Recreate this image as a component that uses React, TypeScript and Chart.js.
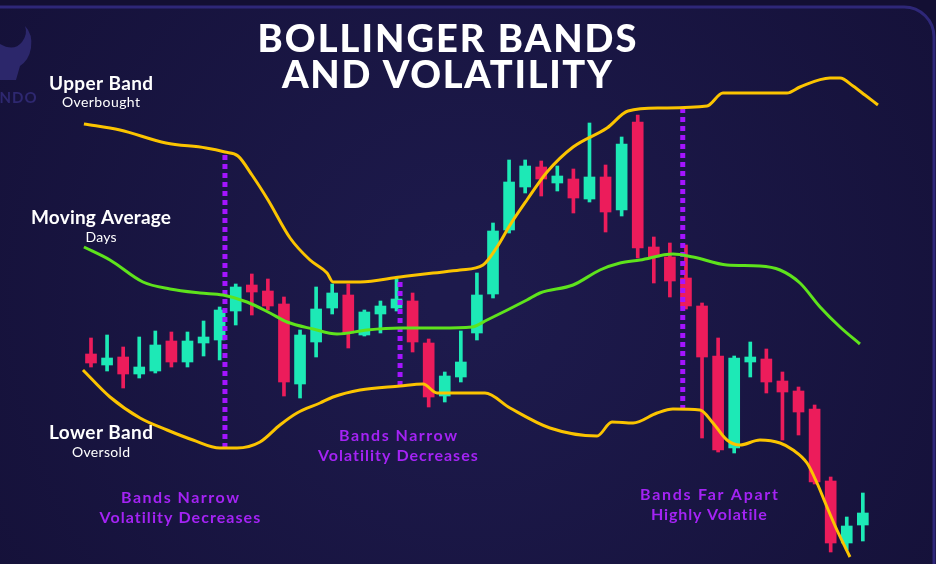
import { useEffect, useRef } from "react";
import { Chart, registerables } from "chart.js";

Chart.register(...registerables);

// candle index runs 0..48; prices in chart units (0 = bottom of picture)
const opens = [210, 199, 207, 190, 193, 223, 202, 221, 224, 253, 279, 273, 260, 180, 222, 256, 269, 229, 250, 256, 263, 221, 168, 187, 231, 270, 334, 377, 397, 381, 385, 365, 387, 354, 442, 317, 307, 286, 258, 208, 116, 202, 205, 183, 173, 155, 83, 21, 39];
const highs = [226, 229, 217, 227, 233, 232, 232, 243, 257, 280, 290, 285, 267, 234, 277, 280, 280, 254, 263, 286, 271, 225, 192, 233, 291, 341, 404, 404, 403, 398, 395, 441, 399, 427, 449, 327, 321, 319, 261, 226, 208, 222, 215, 192, 177, 159, 87, 47, 71];
const lows = [197, 193, 176, 186, 191, 197, 197, 208, 204, 239, 249, 254, 168, 166, 207, 250, 216, 228, 231, 253, 212, 157, 162, 182, 224, 266, 331, 371, 368, 373, 351, 362, 332, 348, 306, 281, 267, 255, 126, 112, 111, 187, 171, 124, 129, 80, 12, 14, 23];
const closes = [201, 206, 190, 197, 219, 202, 223, 227, 254, 277, 272, 258, 182, 229, 255, 271, 231, 252, 258, 265, 222, 167, 188, 202, 269, 333, 382, 398, 385, 388, 366, 387, 352, 420, 316, 307, 283, 258, 207, 114, 206, 207, 182, 172, 152, 82, 21, 38, 51];

const upperBand = [
  { x: -0.44, y: 440 }, { x: 1.8, y: 434 }, { x: 4.66, y: 421 }, { x: 7.15, y: 416 },
  { x: 8.33, y: 412 }, { x: 9.14, y: 408 }, { x: 10.01, y: 389 }, { x: 11.01, y: 364 },
  { x: 12.38, y: 326 }, { x: 13.62, y: 304 }, { x: 14.68, y: 291 }, { x: 15.05, y: 282 },
  { x: 16.73, y: 282 }, { x: 19.22, y: 287 }, { x: 21.27, y: 291 }, { x: 22.95, y: 294 },
  { x: 24.38, y: 299 }, { x: 25.25, y: 317 }, { x: 26.06, y: 339 }, { x: 27.11, y: 364 },
  { x: 28.36, y: 392 }, { x: 29.98, y: 417 }, { x: 32.09, y: 436 }, { x: 33.4, y: 453 },
  { x: 35.39, y: 456 }, { x: 38.31, y: 458 }, { x: 39.3, y: 471 }, { x: 43.28, y: 471 },
  { x: 44.09, y: 477 }, { x: 45.96, y: 486 }, { x: 46.58, y: 486 }, { x: 47.39, y: 478 },
  { x: 48.13, y: 469 }, { x: 48.94, y: 459 },
];

const movingAverage = [
  { x: -0.44, y: 317 }, { x: 1.18, y: 304 }, { x: 3.23, y: 282 }, { x: 4.91, y: 275 },
  { x: 6.78, y: 271 }, { x: 8.21, y: 269 }, { x: 9.7, y: 262 }, { x: 11.13, y: 251 },
  { x: 12.19, y: 242 }, { x: 13.81, y: 235 }, { x: 15.3, y: 230 }, { x: 17.16, y: 234 },
  { x: 19.22, y: 236 }, { x: 21.7, y: 236 }, { x: 23.69, y: 237 }, { x: 24.63, y: 244 },
  { x: 27.11, y: 264 }, { x: 27.92, y: 271 }, { x: 29.98, y: 279 }, { x: 31.65, y: 294 },
  { x: 32.9, y: 301 }, { x: 34.14, y: 304 }, { x: 36.19, y: 310 }, { x: 37.44, y: 307 },
  { x: 39.55, y: 299 }, { x: 41.6, y: 298 }, { x: 42.85, y: 294 }, { x: 44.09, y: 281 },
  { x: 45.34, y: 257 }, { x: 46.58, y: 237 }, { x: 47.82, y: 220 },
];

const lowerBand = [
  { x: -0.5, y: 194 }, { x: 1.18, y: 167 }, { x: 3.05, y: 146 }, { x: 4.73, y: 134 },
  { x: 6.34, y: 124 }, { x: 8.02, y: 116 }, { x: 9.08, y: 116 }, { x: 10.51, y: 122 },
  { x: 11.75, y: 139 }, { x: 12.81, y: 151 }, { x: 14.24, y: 161 }, { x: 15.05, y: 167 },
  { x: 16.73, y: 174 }, { x: 19.22, y: 178 }, { x: 20.65, y: 180 }, { x: 21.52, y: 171 },
  { x: 24.5, y: 171 }, { x: 26.06, y: 156 }, { x: 28.54, y: 136 }, { x: 31.47, y: 128 },
  { x: 32.4, y: 142 }, { x: 33.71, y: 141 }, { x: 35.2, y: 151 }, { x: 36.19, y: 155 },
  { x: 37.87, y: 154 }, { x: 38.68, y: 141 }, { x: 39.55, y: 124 }, { x: 40.36, y: 119 },
  { x: 41.6, y: 124 }, { x: 42.85, y: 121 }, { x: 43.66, y: 114 }, { x: 44.53, y: 101 },
  { x: 45.15, y: 81 }, { x: 45.77, y: 57 }, { x: 46.39, y: 34 }, { x: 47.2, y: 7 },
];

// dotted markers: candle position, bottom, top
const markerX = [8.33, 19.22, 36.8];
const markerLow = [116, 178, 154];
const markerHigh = [411, 288, 457];

const titleLines = ["BOLLINGER BANDS", "AND VOLATILITY"];
const sideLabels = ["Upper Band", "Moving Average", "Lower Band"];
const sideNotes = ["Overbought", "Days", "Oversold"];
const notes = [
  ["Bands Narrow", "Volatility Decreases"],
  ["Bands Narrow", "Volatility Decreases"],
  ["Bands Far Apart", "Highly Volatile"],
];

const UP = "#1de9b6";
const DOWN = "#ec1c5b";
const YELLOW = "#fbc400";
const LIME = "#5ee31c";
const PURPLE = "#a414ff";
const NOTE = "#a423f4";
const FONT = "Lato, 'Open Sans', sans-serif";

function fitText(
  ctx: CanvasRenderingContext2D,
  text: string,
  cx: number,
  baseline: number,
  size: number,
  weight: string,
  color: string,
  width: number
) {
  ctx.font = `${weight} ${size}px ${FONT}`;
  (ctx as any).letterSpacing = "0px";
  const w = ctx.measureText(text).width;
  const ls = Math.max(-1, Math.min(5, (width - w) / Math.max(1, text.length - 1)));
  (ctx as any).letterSpacing = `${ls}px`;
  ctx.fillStyle = color;
  ctx.textAlign = "left";
  ctx.textBaseline = "alphabetic";
  ctx.fillText(text, cx - width / 2, baseline);
}

const backdrop = {
  id: "backdrop",
  beforeDraw(chart: Chart) {
    const { ctx, width, height } = chart;
    ctx.save();
    ctx.fillStyle = "#130f33";
    ctx.fillRect(0, 0, width, height);
    const g = ctx.createRadialGradient(470, 300, 40, 470, 300, 620);
    g.addColorStop(0, "#1d1a4c");
    g.addColorStop(1, "#141037");
    ctx.beginPath();
    ctx.moveTo(-10, 7);
    ctx.lineTo(904, 7);
    ctx.arcTo(934, 7, 934, 40, 30);
    ctx.lineTo(934, height + 10);
    ctx.lineTo(-10, height + 10);
    ctx.closePath();
    ctx.fillStyle = g;
    ctx.fill();
    ctx.beginPath();
    ctx.moveTo(-10, 7);
    ctx.lineTo(904, 7);
    ctx.arcTo(934, 7, 934, 40, 30);
    ctx.lineTo(934, height + 10);
    ctx.strokeStyle = "#2e2778";
    ctx.lineWidth = 3;
    ctx.stroke();

    // faint logo at the left edge
    ctx.fillStyle = "#2c276b";
    ctx.beginPath();
    ctx.moveTo(0, 44);
    ctx.quadraticCurveTo(14, 52, 22, 42);
    ctx.quadraticCurveTo(28, 34, 25, 26);
    ctx.quadraticCurveTo(33, 34, 31, 48);
    ctx.quadraticCurveTo(29, 60, 20, 66);
    ctx.lineTo(16, 80);
    ctx.lineTo(0, 80);
    ctx.closePath();
    ctx.fill();
    fitText(ctx, "NDO", 18, 103, 15, "bold", "#2e2870", 37);
    ctx.restore();
  },
};

const captions = {
  id: "captions",
  afterDraw(chart: Chart) {
    const ctx = chart.ctx;
    ctx.save();
    fitText(ctx, titleLines[0], 447, 52, 38, "900", "#ffffff", 379);
    fitText(ctx, titleLines[1], 447, 88, 38, "900", "#ffffff", 330);

    fitText(ctx, sideLabels[0], 101, 90, 19, "bold", "#ffffff", 104);
    fitText(ctx, sideNotes[0], 101, 107, 14, "normal", "#ffffff", 78);
    fitText(ctx, sideLabels[1], 101, 224, 19, "bold", "#ffffff", 140);
    fitText(ctx, sideNotes[1], 101, 242, 14, "normal", "#ffffff", 31);
    fitText(ctx, sideLabels[2], 101, 439, 19, "bold", "#ffffff", 104);
    fitText(ctx, sideNotes[2], 101, 457, 14, "normal", "#ffffff", 58);

    fitText(ctx, notes[0][0], 398, 441, 16, "bold", NOTE, 118);
    fitText(ctx, notes[0][1], 398, 461, 16, "bold", NOTE, 160);
    fitText(ctx, notes[1][0], 180, 503, 16, "bold", NOTE, 118);
    fitText(ctx, notes[1][1], 180, 523, 16, "bold", NOTE, 161);
    fitText(ctx, notes[2][0], 709, 500, 16, "bold", NOTE, 138);
    fitText(ctx, notes[2][1], 709, 520, 16, "bold", NOTE, 116);
    ctx.restore();
  },
};

export default function App() {
  const canvasRef = useRef<HTMLCanvasElement | null>(null);
  const chartRef = useRef<Chart | null>(null);

  useEffect(() => {
    if (!canvasRef.current) return;
    if (chartRef.current) {
      chartRef.current.destroy();
      chartRef.current = null;
    }

    const idx = opens.map((_, i) => i);
    const colors = idx.map((i) => (closes[i] >= opens[i] ? UP : DOWN));

    const lineStyle = {
      type: "line" as const,
      pointRadius: 0,
      borderWidth: 3,
      fill: false,
      cubicInterpolationMode: "monotone" as const,
      order: 0,
    };

    const markers = markerX.map((x, i) => ({
      type: "line" as const,
      data: [
        { x, y: markerLow[i] },
        { x, y: markerHigh[i] },
      ],
      borderColor: PURPLE,
      borderWidth: 5,
      borderDash: [5, 4],
      borderCapStyle: "butt" as const,
      pointRadius: 0,
      order: 1,
    }));

    chartRef.current = new Chart(canvasRef.current, {
      type: "bar",
      data: {
        datasets: [
          {
            type: "bar",
            data: idx.map((i) => ({ x: i, y: [lows[i], highs[i]] })) as any,
            backgroundColor: colors,
            barThickness: 3,
            grouped: false,
            order: 3,
          },
          {
            type: "bar",
            data: idx.map((i) => ({ x: i, y: [opens[i], closes[i]] })) as any,
            backgroundColor: colors,
            barThickness: 11,
            grouped: false,
            order: 2,
          },
          { ...lineStyle, data: upperBand, borderColor: YELLOW },
          { ...lineStyle, data: lowerBand, borderColor: YELLOW },
          { ...lineStyle, data: movingAverage, borderColor: LIME },
          ...markers,
        ] as any,
      },
      options: {
        animation: false,
        responsive: true,
        maintainAspectRatio: false,
        events: [],
        layout: { padding: 0 },
        plugins: {
          legend: { display: false },
          tooltip: { enabled: false },
        },
        scales: {
          x: {
            type: "linear",
            display: false,
            offset: false,
            min: -91 / 16.08,
            max: (936 - 91) / 16.08,
          },
          y: {
            type: "linear",
            display: false,
            min: 0,
            max: 564,
          },
        },
      },
      plugins: [backdrop, captions],
    });

    return () => {
      if (chartRef.current) {
        chartRef.current.destroy();
        chartRef.current = null;
      }
    };
  }, []);

  return (
    <div style={{ position: "absolute", left: 0, top: 0, width: 936, height: 564 }}>
      <canvas ref={canvasRef} />
    </div>
  );
}
